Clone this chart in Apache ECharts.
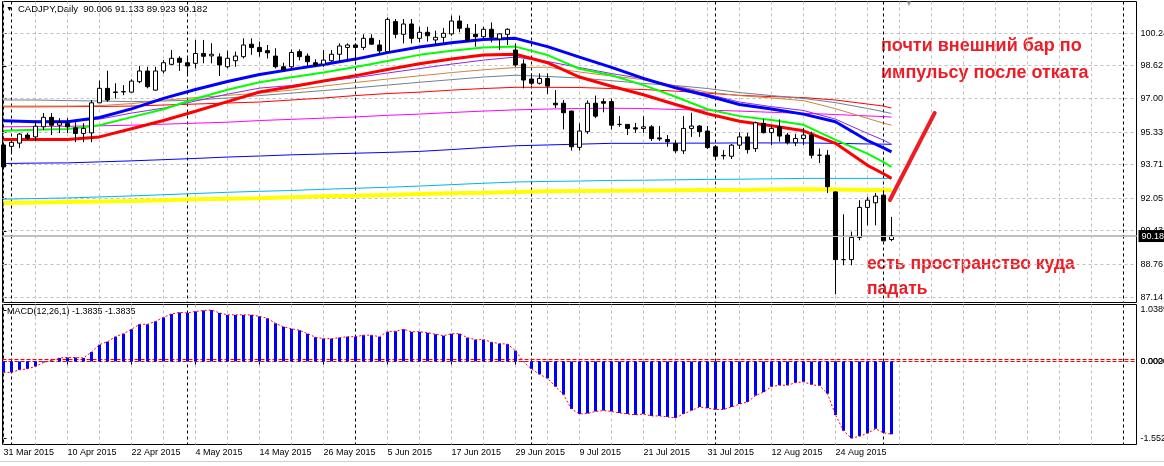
<!DOCTYPE html>
<html><head><meta charset="utf-8">
<script src="https://cdn.jsdelivr.net/npm/echarts@6/dist/echarts.min.js"></script>
<style>html,body{margin:0;padding:0;background:#fff}#c{width:1164px;height:466px}</style>
</head><body><div id="c"></div>
<script>
// ---------- data ----------
const dates = ['31 Mar 2015',
'1 Apr 2015','2 Apr 2015','3 Apr 2015','6 Apr 2015','7 Apr 2015','8 Apr 2015','9 Apr 2015','10 Apr 2015','13 Apr 2015','14 Apr 2015','15 Apr 2015','16 Apr 2015','17 Apr 2015','20 Apr 2015','21 Apr 2015','22 Apr 2015','23 Apr 2015','24 Apr 2015','27 Apr 2015','28 Apr 2015','29 Apr 2015','30 Apr 2015',
'1 May 2015','4 May 2015','5 May 2015','6 May 2015','7 May 2015','8 May 2015','11 May 2015','12 May 2015','13 May 2015','14 May 2015','15 May 2015','18 May 2015','19 May 2015','20 May 2015','21 May 2015','22 May 2015','25 May 2015','26 May 2015','27 May 2015','28 May 2015','29 May 2015',
'1 Jun 2015','2 Jun 2015','3 Jun 2015','4 Jun 2015','5 Jun 2015','8 Jun 2015','9 Jun 2015','10 Jun 2015','11 Jun 2015','12 Jun 2015','15 Jun 2015','16 Jun 2015','17 Jun 2015','18 Jun 2015','19 Jun 2015','22 Jun 2015','23 Jun 2015','24 Jun 2015','25 Jun 2015','26 Jun 2015','29 Jun 2015','30 Jun 2015',
'1 Jul 2015','2 Jul 2015','3 Jul 2015','6 Jul 2015','7 Jul 2015','8 Jul 2015','9 Jul 2015','10 Jul 2015','13 Jul 2015','14 Jul 2015','15 Jul 2015','16 Jul 2015','17 Jul 2015','20 Jul 2015','21 Jul 2015','22 Jul 2015','23 Jul 2015','24 Jul 2015','27 Jul 2015','28 Jul 2015','29 Jul 2015','30 Jul 2015','31 Jul 2015',
'3 Aug 2015','4 Aug 2015','5 Aug 2015','6 Aug 2015','7 Aug 2015','10 Aug 2015','11 Aug 2015','12 Aug 2015','13 Aug 2015','14 Aug 2015','17 Aug 2015','18 Aug 2015','19 Aug 2015','20 Aug 2015','21 Aug 2015','24 Aug 2015','25 Aug 2015','26 Aug 2015','27 Aug 2015','28 Aug 2015','31 Aug 2015',
'1 Sep 2015','2 Sep 2015'];

const opens = [94.70,94.63,94.79,95.19,95.10,95.60,96.07,95.68,95.77,95.55,
95.27,95.30,96.79,97.51,97.30,97.33,97.32,97.84,98.37,97.42,
98.37,98.70,99.00,98.78,98.75,99.24,99.12,99.07,98.58,98.88,
99.08,99.70,99.54,99.38,99.11,98.58,98.58,99.33,99.11,98.78,
98.71,98.88,99.20,99.54,99.66,99.54,99.99,99.66,99.33,100.82,
100.19,100.70,99.99,100.29,99.91,100.04,100.21,100.85,100.49,100.19,
100.07,100.44,99.96,100.19,99.41,98.72,97.97,97.76,98.00,96.77,
96.77,96.38,94.58,95.36,96.77,96.85,96.85,95.72,95.72,95.55,
95.52,95.60,95.05,94.97,94.77,94.41,95.52,95.64,95.39,94.61,
94.16,94.14,94.69,95.10,94.52,95.77,95.31,95.60,95.19,94.81,
95.02,95.19,94.19,94.19,92.37,89.01,89.01,90.11,91.60,91.83,
92.21,90.006];
const highs = [94.80,94.94,95.30,95.29,95.90,96.28,96.28,96.03,96.03,95.83,
95.78,96.93,97.89,98.38,97.76,97.67,97.96,98.62,98.58,98.58,
98.91,99.41,99.10,99.08,99.91,99.91,99.75,99.24,99.38,99.33,
99.99,99.99,99.83,99.66,99.50,98.78,99.44,99.44,99.24,98.95,
99.41,99.41,99.74,99.74,99.74,100.19,100.19,99.91,101.03,100.95,
100.95,100.95,100.56,100.56,100.37,100.51,101.12,101.12,100.70,100.70,
100.56,100.78,100.24,100.49,99.74,98.95,98.25,98.25,98.25,97.42,
96.93,96.40,95.77,96.91,97.15,97.00,97.00,96.13,95.72,95.80,
96.13,95.68,95.64,95.19,94.94,96.13,96.30,95.68,95.64,94.70,
94.44,94.75,95.33,95.30,95.86,95.97,95.68,95.97,95.30,95.25,
95.53,95.36,94.52,94.44,92.40,91.26,90.40,91.96,92.12,92.32,
92.45,91.133];
const lows = [93.58,94.30,94.54,94.94,94.89,95.44,95.19,95.29,95.29,94.84,
94.84,94.84,96.78,96.84,97.00,97.17,97.30,97.76,97.51,97.39,
98.25,98.67,98.38,98.17,98.50,98.75,98.75,98.12,98.50,98.58,
98.99,99.17,99.08,98.99,98.50,98.34,98.50,98.90,98.62,98.58,
98.58,98.83,98.83,98.87,98.87,99.41,99.66,99.21,99.29,99.99,
99.74,99.74,99.79,99.83,99.66,99.74,100.12,100.29,99.83,99.58,
99.99,99.79,99.41,99.66,98.58,97.51,97.67,97.70,97.22,96.53,
95.47,94.42,94.42,95.25,96.03,96.32,95.47,95.60,95.19,95.30,
95.30,94.90,94.90,94.61,94.30,94.25,95.10,95.10,94.50,94.05,
93.98,94.00,94.50,94.27,94.36,95.27,94.69,94.86,94.72,94.64,
94.69,94.03,93.80,92.32,87.29,88.73,88.73,89.97,90.71,90.71,
89.94,89.923];
const closes = [93.61,94.83,95.24,95.03,95.63,96.07,95.68,95.80,95.60,95.27,
95.52,96.79,97.51,96.93,97.33,97.35,97.87,98.37,97.59,98.37,
98.78,99.00,98.80,98.62,99.24,99.10,99.20,98.67,99.00,99.11,
99.66,99.53,99.33,99.27,98.58,98.42,99.29,99.08,98.83,98.67,
98.91,99.20,99.61,99.66,99.54,99.99,99.70,99.37,100.93,100.19,
100.70,99.99,100.29,100.12,100.04,100.24,100.85,100.49,99.91,100.07,
100.44,100.04,100.21,100.44,98.67,97.92,97.76,98.00,97.62,96.69,
96.30,94.61,95.39,96.77,96.13,96.77,95.68,95.72,95.52,95.49,
95.60,95.02,95.00,94.86,94.41,95.52,95.64,95.36,94.57,94.14,
94.18,94.69,95.10,94.47,95.80,95.31,95.52,95.14,94.81,95.02,
95.19,94.19,94.19,92.63,89.01,89.01,90.11,91.60,91.96,92.16,
89.94,90.182];

// moving averages, read at these bar indices
const maIdx = [0,4,8,12,16,20,24,28,32,36,40,44,48,52,56,60,64,68,72,76,80,84,88,92,96,100,104,108,110,111];
const maBlueThick = [95.90,95.85,95.85,96.06,96.49,97.01,97.45,97.85,98.20,98.45,98.69,98.96,99.28,99.56,99.77,99.93,99.99,99.58,99.06,98.55,98.00,97.53,97.14,96.71,96.48,96.23,95.85,94.92,94.55,94.36];
const maGreen = [95.40,95.45,95.49,95.68,96.08,96.47,96.99,97.44,97.81,98.06,98.30,98.57,98.87,99.17,99.37,99.53,99.58,99.16,98.48,98.16,97.67,97.09,96.47,96.13,95.94,95.70,94.95,94.27,93.85,93.61];
const maRedThick = [94.97,94.97,94.97,95.10,95.50,95.91,96.37,96.85,97.33,97.59,97.87,98.14,98.44,98.73,98.96,99.16,99.20,98.78,98.07,97.61,97.19,96.71,96.25,95.88,95.65,95.40,94.78,93.69,93.27,93.04];
const maPurple = [95.88,95.88,95.88,95.98,96.28,96.53,96.88,97.22,97.52,97.65,97.85,98.04,98.27,98.49,98.71,98.91,99.06,98.84,98.54,98.24,97.99,97.62,97.22,96.83,96.60,96.41,95.98,95.27,94.94,94.73];
const maOrange = [96.63,96.63,96.63,96.65,96.75,96.92,97.05,97.16,97.27,97.42,97.62,97.80,97.97,98.13,98.29,98.43,98.54,98.56,98.32,98.12,97.94,97.62,97.32,97.15,97.03,96.90,96.50,96.02,95.78,95.68];
const maGrey = [96.93,96.93,96.90,96.88,96.85,96.88,96.93,97.03,97.15,97.27,97.40,97.53,97.67,97.81,97.94,98.07,98.16,98.10,98.02,97.89,97.75,97.65,97.50,97.30,97.15,97.01,96.80,96.51,96.35,96.26];
const maRedThin = [96.59,96.59,96.60,96.61,96.63,96.68,96.73,96.78,96.83,96.93,97.03,97.15,97.25,97.32,97.42,97.50,97.56,97.56,97.55,97.50,97.45,97.37,97.27,97.16,97.10,97.05,96.93,96.73,96.63,96.53];
const maMagenta = [95.60,95.61,95.63,95.65,95.68,95.73,95.78,95.83,95.91,95.97,96.03,96.09,96.17,96.23,96.31,96.38,96.44,96.48,96.51,96.52,96.51,96.46,96.43,96.38,96.32,96.27,96.21,96.14,96.11,96.08];
const maBlueThin = [93.78,93.80,93.81,93.86,93.91,93.97,94.03,94.10,94.15,94.21,94.25,94.29,94.33,94.38,94.47,94.57,94.66,94.70,94.74,94.78,94.78,94.79,94.79,94.80,94.80,94.80,94.78,94.75,94.74,94.73];
const maCyan = [92.01,92.04,92.07,92.12,92.17,92.23,92.29,92.35,92.40,92.44,92.50,92.55,92.60,92.66,92.73,92.80,92.86,92.89,92.91,92.94,92.95,92.97,92.99,93.00,93.02,93.04,93.04,93.04,93.04,93.04];
const maYellow = [91.82,91.84,91.87,91.89,91.92,91.96,92.00,92.03,92.06,92.11,92.15,92.18,92.22,92.26,92.30,92.33,92.37,92.40,92.42,92.43,92.44,92.45,92.46,92.47,92.49,92.50,92.49,92.47,92.46,92.46];

const macd = [-0.22,-0.22,-0.17,-0.15,-0.10,-0.02,0.02,0.07,0.08,0.08,0.07,0.19,0.34,0.40,0.50,0.56,0.65,0.75,0.75,0.81,0.89,0.96,0.99,0.98,1.01,1.03,1.0389,0.98,0.94,0.94,0.94,0.94,0.91,0.87,0.77,0.70,0.66,0.63,0.56,0.49,0.46,0.46,0.48,0.50,0.50,0.53,0.53,0.50,0.60,0.61,
0.65,0.60,0.60,0.58,0.55,0.52,0.56,0.56,0.48,0.44,0.44,0.39,0.36,0.35,0.22,-0.01,-0.15,-0.26,-0.34,-0.51,-0.67,-0.96,-1.06,-1.05,-1.01,-0.99,-1.01,-1.04,-1.06,-1.08,-1.06,-1.10,-1.10,-1.12,-1.14,-1.06,-0.99,-0.92,-0.94,-0.97,-0.97,-0.92,-0.86,-0.82,-0.69,-0.62,-0.51,-0.48,-0.48,-0.43,
-0.41,-0.47,-0.49,-0.65,-1.08,-1.40,-1.552,-1.51,-1.45,-1.36,-1.44,-1.47];

const priceTicks = [87.14, 88.76, 90.43, 92.05, 93.71, 95.33, 97.00, 98.62, 100.24];
const macdTicks = [-1.552, 0, 0.0026, 1.0389];
const macdTickText = {'-1.552':'-1.552','0':'0.0000','0.0026':'0.0026','1.0389':'1.0389'};
const labelIdx = [0,8,16,24,32,40,48,56,64,72,80,88,96,104];
const gridIdx = [0,4,8,12,16,20,24,28,32,36,40,44,48,52,56,60,64,68,72,76,80,84,88,92,96,100,104,108,112,116,120,124,128,132,136,140];
const separatorIdx = [1,23,44,66,89,110,140];
const lastPrice = 90.182;
const zeroLevels = [0, 0.04];
const arrowFrom = [110.8, 91.97], arrowTo = [116.4, 96.29];

// ---------- chart ----------
const FONT = "'Liberation Sans', Arial, sans-serif";
const XMIN = -0.125, XMAX = 141.625, YMIN = 86.882, YMAX = 101.818, MMIN = -1.677, MMAX = 1.150;
const ohlc = opens.map((o, i) => [i, o, closes[i], lows[i], highs[i]]);
const pair = arr => maIdx.map((ix, k) => [ix, arr[k]]);
const macdPts = macd.map((v, i) => [i, v]);

function ma(name, arr, color, width) {
  return {name, type: 'line', xAxisIndex: 0, yAxisIndex: 0, data: pair(arr), showSymbol: false, symbol: 'none',
    lineStyle: {color, width}, z: 2, silent: true};
}

// guide lines drawn through the axes' scales (custom series)
function vGuides(axisIdx, values, stroke, dash, z) {
  return {type: 'custom', xAxisIndex: axisIdx, yAxisIndex: axisIdx, silent: true, z: z || 1, clip: false,
    data: values.map(v => [v]), encode: {x: 0},
    renderItem: (params, api) => {
      const cs = params.coordSys;
      const x = Math.round(api.coord([api.value(0), 0])[0] - 0.5) + 0.5;
      return {type: 'line', shape: {x1: x, y1: cs.y, x2: x, y2: cs.y + cs.height},
        style: {stroke, lineWidth: 1, lineDash: dash, fill: null}};
    }};
}
function hGuides(axisIdx, values, stroke, dash, z) {
  return {type: 'custom', xAxisIndex: axisIdx, yAxisIndex: axisIdx, silent: true, z: z || 1, clip: false,
    data: values.map(v => [0, v]), encode: {x: 0, y: 1},
    renderItem: (params, api) => {
      const cs = params.coordSys;
      const y = Math.round(api.coord([0, api.value(1)])[1] - 0.5) + 0.5;
      return {type: 'line', shape: {x1: cs.x, y1: y, x2: cs.x + cs.width, y2: y},
        style: {stroke, lineWidth: 1, lineDash: dash, fill: null}};
    }};
}
const GRID_GREY = '#c0c0c0';

const option = {
  animation: false,
  backgroundColor: '#fff',
  textStyle: {fontFamily: FONT},
  grid: [
    {left: 2.5, right: 27.5, top: 1.5, height: 301, show: true, borderColor: '#000', borderWidth: 1, backgroundColor: 'transparent', outerBoundsMode: 'none', containLabel: false},
    {left: 2.5, right: 27.5, top: 304.5, height: 140, show: true, borderColor: '#000', borderWidth: 1, backgroundColor: 'transparent', outerBoundsMode: 'none', containLabel: false}
  ],
  xAxis: [
    {type: 'value', gridIndex: 0, min: XMIN, max: XMAX, axisLine: {show: false}, axisTick: {show: false}, axisLabel: {show: false}, splitLine: {show: false}},
    {type: 'value', gridIndex: 1, min: XMIN, max: XMAX, axisLine: {show: false},
      axisTick: {show: true, customValues: labelIdx, length: 4, lineStyle: {color: '#000'}},
      axisLabel: {customValues: labelIdx, formatter: v => dates[v] || '', align: 'left', margin: 4, fontSize: 9, color: '#000', fontFamily: FONT},
      splitLine: {show: false}}
  ],
  yAxis: [
    {type: 'value', gridIndex: 0, position: 'right', min: YMIN, max: YMAX,
      axisLine: {show: true, lineStyle: {color: '#000'}},
      axisTick: {show: true, customValues: priceTicks, length: 3, lineStyle: {color: '#000'}},
      axisLabel: {customValues: priceTicks, formatter: v => v.toFixed(2), margin: 4, fontSize: 9, color: '#000', fontFamily: FONT},
      splitLine: {show: false}},
    {type: 'value', gridIndex: 1, position: 'right', min: MMIN, max: MMAX,
      axisLine: {show: true, lineStyle: {color: '#000'}},
      axisTick: {show: true, customValues: macdTicks, length: 3, lineStyle: {color: '#000'}},
      axisLabel: {customValues: macdTicks, formatter: v => macdTickText[String(v)] || String(v), margin: 4, fontSize: 9, color: '#000', fontFamily: FONT},
      splitLine: {show: false}}
  ],
  series: [
    vGuides(0, gridIdx, GRID_GREY, [3, 3]),
    hGuides(0, priceTicks, GRID_GREY, [3, 3]),
    hGuides(0, [lastPrice], '#c0c0c0', null),
    vGuides(0, separatorIdx, '#000', [3, 3]),
    // last-price tag on the price scale
    {type: 'line', xAxisIndex: 0, yAxisIndex: 0, data: [[0, null]], symbol: 'none', silent: true, z: 6,
      markLine: {silent: true, symbol: 'none', animation: false,
        lineStyle: {color: '#c0c0c0', width: 1, type: 'solid'},
        label: {show: true, position: 'end', distance: 2, formatter: lastPrice.toFixed(2), color: '#fff', backgroundColor: '#000',
          padding: [2, 3, 1, 3], fontSize: 9, fontFamily: FONT},
        data: [{yAxis: lastPrice}]}},
    ma('yellow', maYellow, '#ffff00', 4),
    ma('cyan', maCyan, '#00b4f0', 1),
    ma('blueThin', maBlueThin, '#0000ff', 1),
    ma('magenta', maMagenta, '#ff00ff', 1),
    ma('redThin', maRedThin, '#ff0000', 1),
    ma('grey', maGrey, '#708090', 1),
    ma('orange', maOrange, '#cd853f', 1),
    ma('purple', maPurple, '#8a2be2', 1),
    ma('redThick', maRedThick, '#ff0000', 3),
    ma('green', maGreen, '#00ff00', 2),
    ma('blueThick', maBlueThick, '#0000ff', 3),
    {name: 'CADJPY', type: 'candlestick', xAxisIndex: 0, yAxisIndex: 0, data: ohlc, barWidth: 4, z: 3, silent: true,
      itemStyle: {color: '#ffffff', color0: '#000000', borderColor: '#000000', borderColor0: '#000000', borderWidth: 1}},
    // drawn trend arrow
    {type: 'line', xAxisIndex: 0, yAxisIndex: 0, data: [[0, null]], symbol: 'none', silent: true, z: 5,
      markLine: {silent: true, symbol: 'none', label: {show: false},
        lineStyle: {color: '#ee1c25', width: 4, type: 'solid', cap: 'round'},
        data: [[{coord: arrowFrom}, {coord: arrowTo}]]}},
    // MACD panel guide lines
    vGuides(1, gridIdx, GRID_GREY, [3, 3]),
    vGuides(1, separatorIdx, '#000', [3, 3]),
    hGuides(1, zeroLevels, '#ff0000', [4, 2]),
    {name: 'MACD', type: 'bar', xAxisIndex: 1, yAxisIndex: 1, data: macdPts, barWidth: 3, z: 2, silent: true,
      itemStyle: {color: '#0000ff'}},
    {name: 'Signal', type: 'line', xAxisIndex: 1, yAxisIndex: 1, data: macdPts, symbol: 'none', z: 3, silent: true,
      lineStyle: {color: '#ff0000', width: 1, type: [2, 2]}}
  ],
  graphic: [
    {type: 'text', x: 6, y: 9, style: {text: '▼', fontSize: 7, fill: '#000', verticalAlign: 'middle'}},
    {type: 'text', x: 18, y: 9, style: {text: 'CADJPY,Daily  90.006 91.133 89.923 90.182', fontSize: 9.5, fontFamily: FONT, fill: '#000', verticalAlign: 'middle'}},
    {type: 'text', x: 905, y: 4, style: {text: '▼', fontSize: 8, fill: '#a0a0a0', verticalAlign: 'middle'}},
    {type: 'text', x: 7, y: 312, style: {text: 'MACD(12,26,1) -1.3835 -1.3835', fontSize: 9, fontFamily: FONT, fill: '#000', verticalAlign: 'middle'}},
    {type: 'text', x: 881, y: 46, style: {text: 'почти внешний бар по', fontSize: 18, fontWeight: 'bold', fontFamily: FONT, fill: '#ee1c25', verticalAlign: 'middle'}},
    {type: 'text', x: 881, y: 73, style: {text: 'импульсу после отката', fontSize: 18, fontWeight: 'bold', fontFamily: FONT, fill: '#ee1c25', verticalAlign: 'middle'}},
    {type: 'text', x: 867, y: 264, style: {text: 'есть пространство куда', fontSize: 17.5, fontWeight: 'bold', fontFamily: FONT, fill: '#ee1c25', verticalAlign: 'middle'}},
    {type: 'text', x: 867, y: 289, style: {text: 'падать', fontSize: 17.5, fontWeight: 'bold', fontFamily: FONT, fill: '#ee1c25', verticalAlign: 'middle'}},
    {type: 'line', shape: {x1: 0, y1: 461.5, x2: 1164, y2: 461.5}, style: {stroke: '#d0d0d0', lineWidth: 1}}
  ]
};
const chart = echarts.init(document.getElementById('c'), null, {renderer: 'canvas'});
chart.setOption(option);
</script>
</body></html>
